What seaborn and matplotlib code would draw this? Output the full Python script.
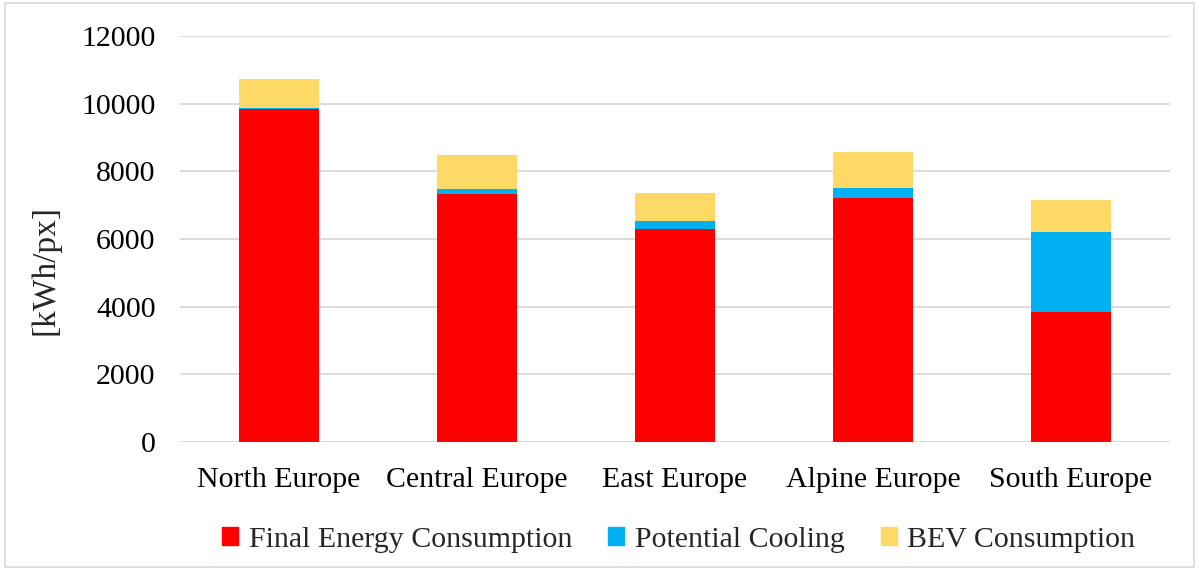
import matplotlib
matplotlib.use("Agg")
import matplotlib.pyplot as plt
import seaborn as sns
import pandas as pd
import numpy as np
from matplotlib.patches import Rectangle

regions = ["North Europe", "Central Europe", "East Europe", "Alpine Europe", "South Europe"]
final_energy = [9840, 7340, 6300, 7220, 3840]
potential_cooling = [40, 140, 245, 300, 2365]
bev_consumption = [850, 1005, 825, 1045, 945]

series_names = ["Final Energy Consumption", "Potential Cooling", "BEV Consumption"]
colors = ["#FF0000", "#00B0F0", "#FFD966"]

sns.set_theme(style="white")
plt.rcParams["font.family"] = ["Liberation Serif", "DejaVu Serif"]

df = pd.DataFrame({
    "region": regions,
    "fec": final_energy,
    "cool": potential_cooling,
    "bev": bev_consumption,
})
df["fec_cool"] = df["fec"] + df["cool"]
df["total"] = df["fec_cool"] + df["bev"]

fig = plt.figure(figsize=(11.99, 5.69), dpi=100)
ax = fig.add_axes([180 / 1199, 1 - 442 / 569, 990 / 1199, 406 / 569])

# Stacked bars: draw cumulative heights from the tallest down
for col, c in zip(["total", "fec_cool", "fec"], colors[::-1]):
    sns.barplot(data=df, x="region", y=col, color=c, width=0.405,
                saturation=1, ax=ax, order=regions, errorbar=None, zorder=3,
                linewidth=0, edgecolor="none")

ax.set_xlim(-0.5, 4.5)
ax.set_ylim(0, 12000)
ax.set_yticks(np.arange(0, 12001, 2000))
ax.yaxis.grid(True, color="#D9D9D9", linewidth=1.3, zorder=0)
ax.set_axisbelow(True)
for s in ax.spines.values():
    s.set_visible(False)
ax.tick_params(axis="both", length=0, labelsize=21.5, colors="black")
ax.tick_params(axis="y", pad=17.5)
ax.tick_params(axis="x", pad=18)
ax.set_xlabel("")
ax.set_ylabel("[kWh/px]", fontsize=24)
ax.yaxis.set_label_coords(-0.121, 0.424)

handles = [Rectangle((0, 0), 1, 1, color=c) for c in colors]
fig.legend(handles, series_names, loc="center", bbox_to_anchor=(0.566, 1 - 540 / 569),
           ncol=3, frameon=False, fontsize=21.5, handlelength=0.55, handleheight=0.55,
           handletextpad=0.35, columnspacing=1.2)

# light frame around the whole chart
fig.patches.append(Rectangle((0.004, 0.004), 0.992, 0.99, transform=fig.transFigure,
                             fill=False, edgecolor="#D9D9D9", linewidth=1.2))

fig.savefig("out.png", dpi=100)
